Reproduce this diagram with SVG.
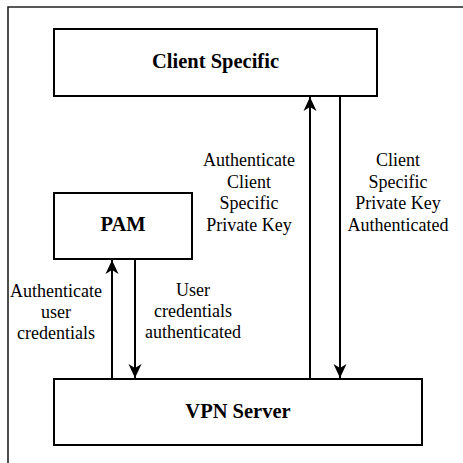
<svg xmlns="http://www.w3.org/2000/svg" width="463" height="463" viewBox="0 0 463 463">
<defs>
<style>
.box{fill:#fff;stroke:#000;stroke-width:2}
.title{font-family:'Liberation Serif','DejaVu Serif',serif;font-weight:bold;font-size:20.5px;text-anchor:middle;fill:#000}
.lbl{font-family:'Liberation Serif','DejaVu Serif',serif;font-size:18px;text-anchor:middle;fill:#000}
.conn{stroke:#000;stroke-width:2;fill:none;marker-end:url(#arr)}
.frame{stroke:#222;stroke-width:1.6;fill:none}
</style>
<marker id="arr" markerUnits="userSpaceOnUse" markerWidth="16" markerHeight="16" viewBox="-15 -8 16 16" refX="0" refY="0" orient="auto">
<path d="M0,0 L-14,-6.5 L-10,0 L-14,6.5 Z" fill="#000"/>
</marker>
</defs>
<path class="frame" d="M8,463 V7 H463"/>
<g id="client-specific">
<rect class="box" x="54" y="29" width="323" height="67"/>
<text class="title" font-family="Liberation Serif" x="215.5" y="68">Client Specific</text>
</g>
<g id="pam">
<rect class="box" x="54" y="193" width="138" height="66"/>
<text class="title" font-family="Liberation Serif" x="123" y="231">PAM</text>
</g>
<g id="vpn-server">
<rect class="box" x="54" y="379" width="368" height="66"/>
<text class="title" font-family="Liberation Serif" x="238" y="418">VPN Server</text>
</g>
<g id="connectors">
<line class="conn" x1="310" y1="378" x2="310" y2="97"/>
<line class="conn" x1="340" y1="97" x2="340" y2="378"/>
<line class="conn" x1="112" y1="378" x2="112" y2="260"/>
<line class="conn" x1="135" y1="260" x2="135" y2="378"/>
<g font-family="Liberation Serif">
<text class="lbl" x="249" y="166">Authenticate</text>
<text class="lbl" x="249" y="187.5">Client</text>
<text class="lbl" x="249" y="209">Specific</text>
<text class="lbl" x="249" y="230.5">Private Key</text>
<text class="lbl" x="398" y="166">Client</text>
<text class="lbl" x="398" y="187.5">Specific</text>
<text class="lbl" x="398" y="209">Private Key</text>
<text class="lbl" x="398" y="230.5">Authenticated</text>
<text class="lbl" x="56" y="297">Authenticate</text>
<text class="lbl" x="56" y="318">user</text>
<text class="lbl" x="56" y="339">credentials</text>
<text class="lbl" x="193" y="296">User</text>
<text class="lbl" x="193" y="317">credentials</text>
<text class="lbl" x="193" y="338">authenticated</text>
</g>
</g>
</svg>
